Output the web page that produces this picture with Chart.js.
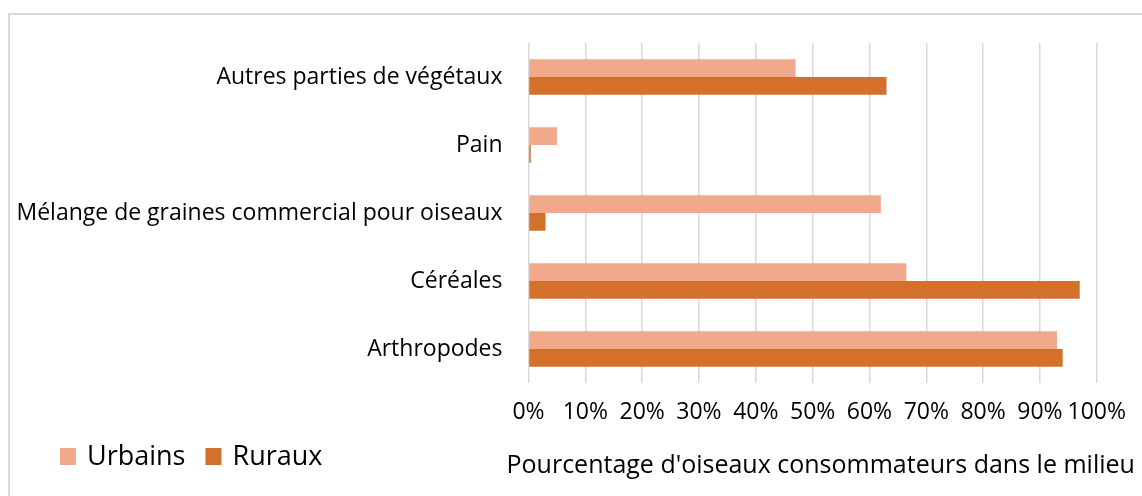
<!DOCTYPE html>
<html>
<head>
<meta charset="utf-8">
<script src="https://cdn.jsdelivr.net/npm/chart.js@4"></script>
<style>
  html, body { margin: 0; padding: 0; background: #fff; overflow: hidden; }
  #frame { position: absolute; left: 8px; top: 13px; width: 1300px; height: 700px; border: 2px solid #d9d9d9; }
  #wrap { position: absolute; left: 0; top: 0; width: 1142px; height: 496px; }
</style>
</head>
<body>
<div id="frame"></div>
<div id="wrap"><canvas id="chart"></canvas></div>
<script>
const categories = ['Autres parties de végétaux', 'Pain', 'Mélange de graines commercial pour oiseaux', 'Céréales', 'Arthropodes'];
const urbains = [47, 5, 62, 66.5, 93];
const ruraux = [63, 0.4, 3, 97, 94];
const xTicks = [0, 10, 20, 30, 40, 50, 60, 70, 80, 90, 100];
const xTitle = "Pourcentage d'oiseaux consommateurs dans le milieu";

const FONT = "'Open Sans', 'Liberation Sans', sans-serif";

// legend at bottom left and axis title beside it (the built-in title gets squeezed to the plot width)
const bottomRow = {
  id: 'bottomRow',
  afterDraw(chart) {
    const ctx = chart.ctx;
    let x = 60;
    const y = 457;
    ctx.save();
    ctx.font = '27px ' + FONT;
    ctx.textBaseline = 'middle';
    chart.data.datasets.forEach(ds => {
      ctx.fillStyle = ds.backgroundColor;
      ctx.fillRect(x, y - 9, 16, 17);
      ctx.fillStyle = '#000';
      ctx.fillText(ds.label, x + 27, y);
      x += 27 + ctx.measureText(ds.label).width + 20;
    });
    ctx.font = '25px ' + FONT;
    ctx.fillText(xTitle, chart.chartArea.left - 22, 466);
    ctx.restore();
  }
};

new Chart(document.getElementById('chart'), {
  type: 'bar',
  data: {
    labels: categories,
    datasets: [
      { label: 'Urbains', data: urbains, backgroundColor: '#F1A98B' },
      { label: 'Ruraux', data: ruraux, backgroundColor: '#D3702B' }
    ]
  },
  options: {
    indexAxis: 'y',
    responsive: true,
    maintainAspectRatio: false,
    animation: false,
    layout: { padding: { left: 9, right: 44, top: 43, bottom: 0 } },
    datasets: { bar: { categoryPercentage: 0.52, barPercentage: 1 } },
    plugins: { legend: { display: false }, tooltip: { enabled: false } },
    scales: {
      x: {
        min: 0,
        max: 100,
        afterBuildTicks: s => { s.ticks = xTicks.map(v => ({ value: v })); },
        afterFit: s => { s.height = 113; },
        grid: { color: '#d9d9d9', lineWidth: 1.5, drawTicks: false },
        border: { display: false },
        ticks: {
          padding: 16, color: '#000', font: { family: FONT, size: 23 },
          maxRotation: 0, minRotation: 0, autoSkip: false,
          callback: v => v + '%'
        }
      },
      y: {
        afterFit: s => { s.width = 519.5; },
        grid: { display: false, drawTicks: false },
        border: { display: false },
        ticks: { padding: 26, color: '#000', font: { family: FONT, size: 23 } }
      }
    }
  },
  plugins: [bottomRow]
});
</script>
</body>
</html>
